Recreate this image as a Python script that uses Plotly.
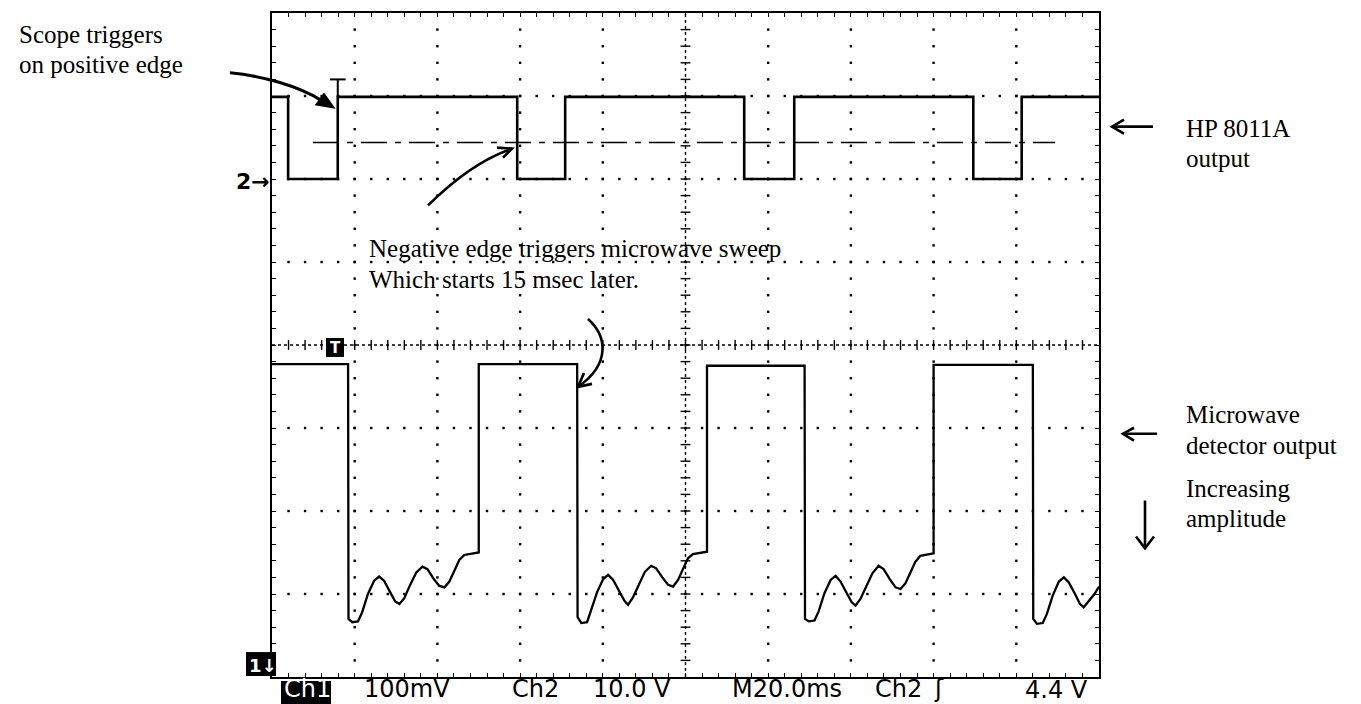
import numpy as np
import plotly.graph_objects as go

# ---- scope settings -------------------------------------------------------
TIME_PER_DIV_MS = 20.0        # M20.0ms
CH1_MV_PER_DIV = 100.0        # Ch1 100mV
CH2_V_PER_DIV = 10.0          # Ch2 10.0 V
CH2_GROUND_DIV = 2.0          # Ch2 ground marker position (divisions from centre)
CH2_TRIGGER_V = 4.4           # trigger level on Ch2

# ---- Ch2: HP 8011A pulse output -------------------------------------------
# edge times (ms), alternating falling / rising, starting from the high level
ch2_edge_ms = [3.9, 15.9, 59.3, 70.9, 114.2, 126.3, 169.6, 181.3]
ch2_high_v = 9.9
ch2_low_v = 0.0
trigger_edge_ms = 15.9

# ---- Ch1: microwave detector output (mV relative to screen centre) -------
ch1_t_ms = [
    0.0,
    18.4, 18.5, 19.4, 20.8, 21.8, 23.2, 24.7, 25.9, 27.1, 28.6, 29.8, 30.8, 32.0, 33.4,
    34.9, 36.4, 37.6, 39.0, 40.4, 41.7, 42.9, 44.1, 45.3, 46.5, 48.4, 50.0, 50.0,
    73.8, 73.9, 74.8, 76.2, 77.2, 78.6, 80.1, 81.3, 82.5, 84.0, 85.2, 86.1, 87.3, 88.8,
    90.2, 91.7, 92.9, 94.4, 95.8, 97.0, 98.2, 99.4, 100.6, 101.8, 103.7, 105.2, 105.2,
    128.8, 128.9, 129.8, 131.2, 132.2, 133.6, 135.1, 136.3, 137.5, 139.0, 140.2, 141.1,
    142.3, 143.8, 145.2, 146.7, 147.9, 149.4, 150.8, 152.0, 153.2, 154.4, 155.6, 156.8,
    158.7, 160.0, 160.0,
    184.0, 184.1, 185.0, 186.4, 187.4, 188.8, 190.3, 191.5, 192.7, 194.2, 195.4, 196.3,
    197.5, 198.9, 200.0,
]
ch1_mv = [
    -23,
    -23, -330, -334, -333, -322, -300, -284, -279, -284, -298, -309, -312, -305, -289,
    -274, -267, -270, -281, -290, -292, -285, -272, -259, -253, -251, -250, -23,
    -23, -328, -335, -334, -320, -298, -282, -277, -283, -297, -308, -313, -304, -288,
    -273, -266, -269, -280, -289, -291, -283, -270, -257, -252, -250, -249, -25,
    -25, -330, -333, -332, -321, -299, -283, -278, -285, -299, -310, -314, -306,
    -290, -275, -266, -270, -282, -292, -294, -287, -274, -261, -254,
    -252, -251, -24,
    -24, -330, -336, -335, -324, -302, -285, -280, -286, -300, -312, -316,
    -308, -300, -291,
]

# ---- screen geometry ------------------------------------------------------
W_PX, H_PX = 1361, 704
L, T, PW, PH = 272, 11, 827, 666
X_RANGE = [0, 10 * TIME_PER_DIV_MS]
Y_RANGE = [-4, 4]


def fx(px):
    return (px - L) / PW


def fy(py):
    return (T + PH - py) / PH


def P(px, py):
    return f"{fx(px):.5f},{fy(py):.5f}"


# Ch2 step trace in screen divisions
ch2_x, ch2_y = [0.0], [ch2_high_v]
level = ch2_high_v
for e in ch2_edge_ms:
    ch2_x.append(e)
    ch2_y.append(level)
    level = ch2_low_v if level == ch2_high_v else ch2_high_v
    ch2_x.append(e)
    ch2_y.append(level)
ch2_x.append(X_RANGE[1])
ch2_y.append(level)
ch2_div = [CH2_GROUND_DIV + v / CH2_V_PER_DIV for v in ch2_y]
ch1_div = [v / CH1_MV_PER_DIV for v in ch1_mv]
trig_div = CH2_GROUND_DIV + CH2_TRIGGER_V / CH2_V_PER_DIV

fig = go.Figure()

# graticule dots: every 0.2 division along each division line
sub_x = np.arange(0, 200.001, TIME_PER_DIV_MS / 5)[1:-1]
sub_y = np.arange(-4, 4.001, 0.2)[1:-1]
gx, gy = [], []
for k in [-3, -2, -1, 1, 2, 3]:
    gx += list(sub_x)
    gy += [k] * len(sub_x)
for j in [1, 2, 3, 4, 6, 7, 8, 9]:
    gx += [j * TIME_PER_DIV_MS] * len(sub_y)
    gy += list(sub_y)
fig.add_trace(go.Scatter(x=gx, y=gy, mode="markers", hoverinfo="skip",
                         marker=dict(symbol="square", size=2.4, color="black")))

# centre crosshair tick marks
fig.add_trace(go.Scatter(x=list(sub_x), y=[0] * len(sub_x), mode="markers", hoverinfo="skip",
                         marker=dict(symbol="line-ns", size=7,
                                     line=dict(width=1.4, color="black"))))
fig.add_trace(go.Scatter(x=[100] * len(sub_y), y=list(sub_y), mode="markers", hoverinfo="skip",
                         marker=dict(symbol="line-ew", size=7,
                                     line=dict(width=1.4, color="black"))))

# trigger level (dash-dot) on Ch2
fig.add_trace(go.Scatter(x=[9.9, 189.4], y=[trig_div, trig_div], mode="lines", hoverinfo="skip",
                         line=dict(color="black", width=1.6, dash="26px,8px,6px,8px")))

# waveforms
fig.add_trace(go.Scatter(x=ch2_x, y=ch2_div, mode="lines", name="Ch2",
                         line=dict(color="black", width=2.6)))
fig.add_trace(go.Scatter(x=ch1_t_ms, y=ch1_div, mode="lines", name="Ch1",
                         line=dict(color="black", width=2.3)))

shapes = []
# centre crosshair lines
shapes.append(dict(type="line", xref="x", yref="y", x0=0, x1=200, y0=0, y1=0,
                   line=dict(color="black", width=1.4, dash="dot"), layer="below"))
shapes.append(dict(type="line", xref="x", yref="y", x0=100, x1=100, y0=-4, y1=4,
                   line=dict(color="black", width=1.4, dash="dot"), layer="below"))

# trigger position "T" marker above the Ch2 trace
t_top = 3.2
shapes.append(dict(type="line", xref="x", yref="y", x0=trigger_edge_ms - 1.9,
                   x1=trigger_edge_ms + 1.9, y0=t_top, y1=t_top,
                   line=dict(color="black", width=2)))
shapes.append(dict(type="line", xref="x", yref="y", x0=trigger_edge_ms, x1=trigger_edge_ms,
                   y0=t_top, y1=CH2_GROUND_DIV + ch2_high_v / CH2_V_PER_DIV,
                   line=dict(color="black", width=2)))

# black marker boxes
for (x0, y0, x1, y1) in [(326, 337, 344, 356), (246, 652, 276, 676), (281, 681, 331, 704)]:
    shapes.append(dict(type="rect", xref="paper", yref="paper",
                       x0=fx(x0), x1=fx(x1), y0=fy(y1), y1=fy(y0),
                       fillcolor="black", line=dict(width=0)))


def stroke(path, width=2.6):
    shapes.append(dict(type="path", xref="paper", yref="paper", path=path,
                       line=dict(color="black", width=width)))


def vhead(tip, a, b, width=2.6):
    stroke(f"M{P(*a)} L{P(*tip)} L{P(*b)}", width)


# hand-drawn arrows
stroke(f"M{P(230, 71)} C{P(262, 74)} {P(298, 84)} {P(322, 99)}", 3)
shapes.append(dict(type="path", xref="paper", yref="paper",
                   path=f"M{P(334, 106)} L{P(316, 103)} L{P(324, 92)} Z",
                   fillcolor="black", line=dict(color="black", width=1.5)))

stroke(f"M{P(428, 204)} C{P(452, 180)} {P(480, 158)} {P(512, 147)}")
vhead((512, 147), (497, 146), (503, 156))

stroke(f"M{P(588, 318)} C{P(606, 334)} {P(612, 362)} {P(578, 386)}")
vhead((578, 386), (592, 383), (584, 372))

stroke(f"M{P(1153, 125)} L{P(1112, 125)}")
vhead((1112, 125), (1124, 118), (1124, 132))
stroke(f"M{P(1157, 433)} L{P(1123, 433)}")
vhead((1123, 433), (1134, 427), (1134, 440))
stroke(f"M{P(1145, 500)} L{P(1145, 548)}")
vhead((1145, 548), (1136, 536), (1154, 536))

annotations = []


def label(text, left, baseline, size, family, color="black", descent=0.22,
          xanchor="left", weight="normal"):
    annotations.append(dict(text=text, xref="paper", yref="paper", x=fx(left),
                            y=fy(baseline + descent * size + 1), xanchor=xanchor,
                            yanchor="bottom", showarrow=False,
                            font=dict(family=family, size=size, color=color, weight=weight)))


SERIF = "Liberation Serif"
SANS = "DejaVu Sans"
label("Scope triggers", 17, 42, 25, SERIF)
label("on positive edge", 17, 72, 25, SERIF)
label("Negative edge triggers microwave sweep", 367, 256, 25, SERIF)
label("Which starts 15 msec later.", 367, 287, 25, SERIF)
label("HP 8011A", 1184, 136, 25, SERIF)
label("output", 1184, 166, 25, SERIF)
label("Microwave", 1184, 423, 25, SERIF)
label("detector output", 1184, 454, 25, SERIF)
label("Increasing", 1184, 497, 25, SERIF)
label("amplitude", 1184, 527, 25, SERIF)

# scope readout row
label("Ch1", 282, 698, 24, SANS, color="white", descent=0.24)
label("100mV", 362, 698, 24, SANS, descent=0.24)
label("Ch2", 510, 698, 24, SANS, descent=0.24)
label("10.0 V", 591, 698, 24, SANS, descent=0.24)
label("M20.0ms", 730, 698, 24, SANS, descent=0.24)
label("Ch2", 873, 698, 24, SANS, descent=0.24)
label("ʃ", 932, 698, 24, SANS, descent=0.24)
label("4.4 V", 1023, 699, 24, SANS, descent=0.24)

# channel / position markers
label("2→", 272, 188, 22, SANS, descent=0.24, xanchor="right", weight="bold")
label("1↓", 247, 673, 18, SANS, color="white", descent=0.24, weight="bold")
label("T", 328, 353, 15, SANS, color="white", descent=0.24, weight="bold")

axis_common = dict(showgrid=False, zeroline=False, showticklabels=False,
                   showline=True, linecolor="black", linewidth=2, mirror="ticks",
                   ticks="inside", ticklen=4, tickwidth=1.4, tickcolor="black",
                   fixedrange=True)
fig.update_layout(
    width=W_PX, height=H_PX,
    margin=dict(l=L, r=W_PX - L - PW, t=T, b=H_PX - T - PH, pad=0),
    paper_bgcolor="white", plot_bgcolor="white",
    showlegend=False,
    xaxis=dict(range=X_RANGE, dtick=TIME_PER_DIV_MS / 5, tick0=0, **axis_common),
    yaxis=dict(range=Y_RANGE, dtick=0.2, tick0=0, **axis_common),
    shapes=shapes,
    annotations=annotations,
)

fig.write_html("out.html")
